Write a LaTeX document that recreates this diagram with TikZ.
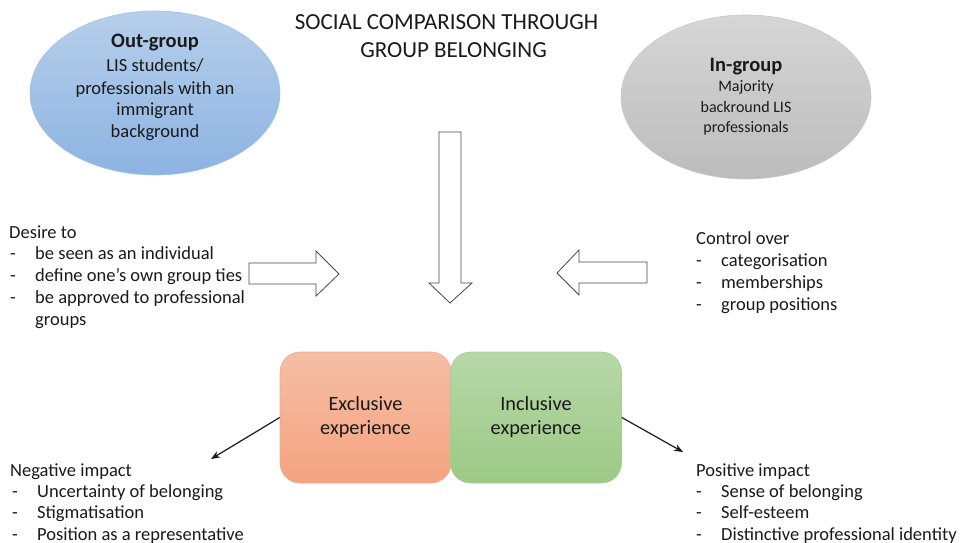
\documentclass[tikz,border=0pt]{standalone}
\usepackage{fontspec}
\setmainfont{Carlito}
\usetikzlibrary{shapes.geometric,arrows.meta}

\definecolor{ink}{HTML}{1A1A1A}
\definecolor{outTop}{HTML}{B6CFEB}
\definecolor{outBot}{HTML}{8DB3E2}
\definecolor{outLine}{HTML}{A3C1E6}
\definecolor{inTop}{HTML}{D6D6D6}
\definecolor{inBot}{HTML}{BCBCBC}
\definecolor{inLine}{HTML}{C8C8C8}
\definecolor{exTop}{HTML}{F6BEA5}
\definecolor{exBot}{HTML}{F4A37F}
\definecolor{exLine}{HTML}{F2A988}
\definecolor{incTop}{HTML}{B7D7A8}
\definecolor{incBot}{HTML}{9CCA86}
\definecolor{incLine}{HTML}{A3CF8E}

\tikzset{
  body/.style={text=ink, inner sep=0pt, font=\fontsize{18.5}{22}\selectfont},
  line/.style={body, anchor=base west},
  titletext/.style={text=ink, inner sep=0pt, anchor=base, font=\fontsize{23}{28}\selectfont},
  groupblob/.style={ellipse, minimum width=250pt, minimum height=164pt, inner sep=0pt, line width=0.6pt},
  grouptext/.style={body, anchor=base, align=center},
  smalltext/.style={grouptext, font=\fontsize{16}{20}\selectfont},
  grouphead/.style={grouptext, font=\fontsize{20.5}{24}\selectfont\bfseries},
  expbox/.style={rectangle, rounded corners=20pt, minimum width=171pt, minimum height=131pt,
                 inner sep=0pt, line width=0.6pt, text=ink, align=center,
                 font=\fontsize{20.3}{24}\selectfont},
  blockarrow/.style={draw=ink!80, line width=0.8pt, fill=white, line join=miter},
  impact/.style={draw=ink, line width=1.2pt, -{Stealth[length=9pt,width=7pt]}}
}
\newcommand\itemdash[1]{\makebox[25pt][l]{-}#1}

\begin{document}
\begin{tikzpicture}[x=1pt,y=-1pt]
\useasboundingbox (0,0) rectangle (961,543);

% title
\node[titletext] (title1) at (446.5,30) {SOCIAL COMPARISON THROUGH};
\node[titletext] (title2) at (453.5,58) {GROUP BELONGING};

% the two groups
\node[groupblob, draw=outLine, top color=outTop, bottom color=outBot] (outg) at (155,93) {};
\node[grouphead] (outg1) at (155,48) {Out-group};
\node[grouptext] (outg2) at (155,72) {LIS students/};
\node[grouptext] (outg3) at (155,94) {professionals with an};
\node[grouptext] (outg4) at (155,115) {immigrant};
\node[grouptext] (outg5) at (155,137) {background};

\node[groupblob, draw=inLine, top color=inTop, bottom color=inBot] (ing) at (746,97) {};
\node[grouphead] (ing1) at (746,72) {In-group};
\node[smalltext] (ing2) at (746,92) {Majority};
\node[smalltext] (ing3) at (746,112) {backround LIS};
\node[smalltext] (ing4) at (746,132) {professionals};

% block arrows
\draw[blockarrow] (439,132) -- (461,132) -- (461,283) -- (472,283) -- (450,303)
  -- (429,283) -- (439,283) -- cycle;
\draw[blockarrow] (249,263) -- (316,263) -- (316,251) -- (339,274) -- (316,296)
  -- (316,284) -- (249,284) -- cycle;
\draw[blockarrow] (647,262) -- (579,262) -- (579,250) -- (557,273) -- (579,295)
  -- (579,283) -- (647,283) -- cycle;

% desire to
\node[line] (d0) at (9,238) {Desire to};
\node[line] (d1) at (10,259) {\itemdash{be seen as an individual}};
\node[line] (d2) at (10,281) {\itemdash{define one’s own group ties}};
\node[line] (d3) at (10,303) {\itemdash{be approved to professional}};
\node[line] (d4) at (35,325) {groups};

% control over
\node[line] (c0) at (696,244) {Control over};
\node[line] (c1) at (696,266) {\itemdash{categorisation}};
\node[line] (c2) at (696,288) {\itemdash{memberships}};
\node[line] (c3) at (696,310) {\itemdash{group positions}};

% experiences
\node[expbox, draw=exLine, top color=exTop, bottom color=exBot] (excl) at (365.5,417.5) {Exclusive\\experience};
\node[expbox, draw=incLine, top color=incTop, bottom color=incBot] (incl) at (536,417.5) {Inclusive\\experience};

\coordinate (negtip) at (211,459);
\coordinate (postip) at (683,452);
\draw[impact] (excl.west) -- (negtip);
\draw[impact] (incl.east) -- (postip);

% negative impact
\node[line] (n0) at (10,476) {Negative impact};
\node[line] (n1) at (12,497) {\itemdash{Uncertainty of belonging}};
\node[line] (n2) at (12,518.5) {\itemdash{Stigmatisation}};
\node[line] (n3) at (12,540) {\itemdash{Position as a representative}};

% positive impact
\node[line] (p0) at (696,476) {Positive impact};
\node[line] (p1) at (696,497) {\itemdash{Sense of belonging}};
\node[line] (p2) at (696,518.5) {\itemdash{Self-esteem}};
\node[line] (p3) at (696,540) {\itemdash{Distinctive professional identity}};
\end{tikzpicture}
\end{document}
